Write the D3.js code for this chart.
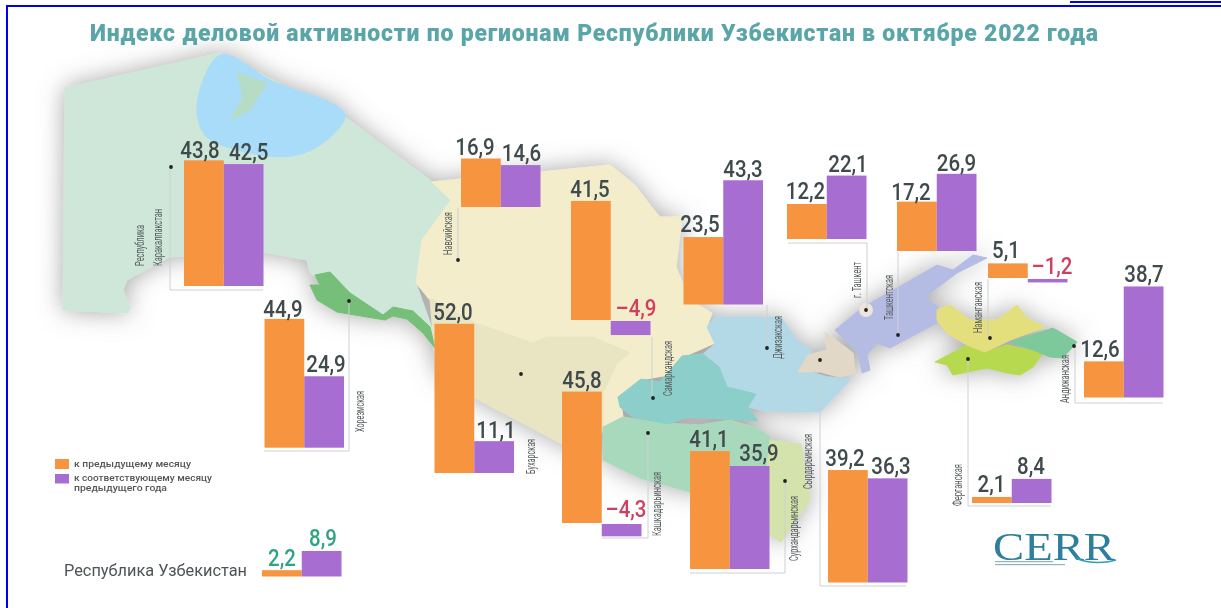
<!DOCTYPE html>
<html><head><meta charset="utf-8">
<script src="https://cdn.jsdelivr.net/npm/d3@7"></script>
<style>html,body{margin:0;padding:0;background:#fff;overflow:hidden}svg{display:block}</style>
</head><body><svg id="c" width="1221" height="608"></svg>
<script>
// ---------- data ----------
const regions = ["Республика Каракалпакстан","Хорезмская","Навоийская","Бухарская","Самаркандская","Кашкадарьинская","Джизакская","Сурхандарьинская","Сырдарьинская","г. Ташкент","Ташкентская","Наманганская","Ферганская","Андижанская","Республика Узбекистан"];
const toPrevMonth = [43.8,44.9,16.9,52.0,41.5,45.8,23.5,41.1,39.2,12.2,17.2,5.1,2.1,12.6,2.2];
const toPrevYear  = [42.5,24.9,14.6,11.1,-4.9,-4.3,43.3,35.9,36.3,22.1,26.9,-1.2,8.4,38.7,8.9];
const seriesNames = ["к предыдущему месяцу","к соответствующему месяцу предыдущего года"];
const titleText = "Индекс деловой активности по регионам Республики Узбекистан в октябре 2022 года";
const fmt = v => (v<0?"–":"")+Math.abs(v).toFixed(1).replace(".",",");

// ---------- layout (not data) ----------
const panelX    = [184,264.5,461,434.5,571,562,683.5,690,828,787,897,988,972,1084,262];
const panelBase = [286,447.7,207,473,320,523,304.5,569,582.5,239,251,278,503,397.5,576.5];
const panelW = 79.5;
const labelX = [[200,248.7],[283,326],[475,521.5],[453,496],[590,636],[582,626],[700,743],[709,759],[845,891],[805.5,848],[911,956.5],[1006,1052],[991.5,1031],[1100,1144],[282,323]];
const labelY = [[158,160],[317,372],[155,161],[320,438],[197,316],[388,517],[232,177],[447,461],[466,474],[199,172],[200,171],[258,274],[492,474],[357,282],[566,546]];
const regionLabels = [
 {t:"Каракалпакстан",x:157.5,y0:209,y1:266},{t:"Республика",x:140,y0:225,y1:266},
 {t:"Хорезмская",x:360,y0:391,y1:432},{t:"Навоийская",x:448,y0:212,y1:255},
 {t:"Бухарская",x:531,y0:439,y1:474},{t:"Самаркандская",x:668,y0:341,y1:396},
 {t:"Кашкадарьинская",x:657,y0:472,y1:536},{t:"Джизакская",x:778,y0:316,y1:359},
 {t:"Сурхандарьинская",x:794,y0:496,y1:561},{t:"Сырдарьинская",x:808,y0:434,y1:489},
 {t:"г. Ташкент",x:857,y0:262,y1:298},{t:"Ташкентская",x:889,y0:275,y1:320},
 {t:"Наманганская",x:978,y0:282,y1:333},{t:"Ферганская",x:958,y0:464,y1:506},
 {t:"Андижанская",x:1065,y0:355,y1:403}];
const dots = [[171,167],[349,301],[458,260],[521,374],[653,398],[648,433],[767,348],[785,481],[820,360],[866,310],[898,335],[990,338],[968,359],[1074,346]];
const leaders = [
 [[170,167],[170,290],[263,290]],[[349,301],[349,451],[264,451]],[[458,260],[458,208]],
 [[652,398],[652,337]],[[648,433],[648,538],[602,538]],[[767,348],[767,305]],
 [[785,481],[785,573],[690,573]],[[820,378],[820,586],[906,586]],
 [[867,310],[867,243],[788,243]],[[898,335],[898,252]],[[988,338],[988,279]],
 [[968,359],[968,506],[1051,506]],[[1075,346],[1075,403],[1163,403]]];
const mapShapes = [
 {f:"#cfe7d8",p:[[65,88],[220,53],[345,117],[430,180],[451,200],[422,240],[416,283],[436,340],[413,315],[393,312],[383,318],[350,296],[318,278],[310,273],[307,260],[263,252],[170,257],[127,280],[123,290],[130,307],[128,313],[63,310]]},
 {f:"#f4edcb",p:[[432,182],[470,178],[540,172],[610,165],[635,185],[650,205],[660,217],[682,217],[676,267],[690,300],[712,313],[707,327],[715,343],[683,357],[680,373],[640,380],[620,397],[623,417],[603,427],[603,393],[617,363],[630,353],[593,337],[547,337],[533,343],[475,323],[430,300],[416,283],[422,240],[451,200]]},
 {f:"#e9e4c2",p:[[430,298],[475,323],[533,343],[547,337],[593,337],[630,353],[617,363],[603,393],[603,430],[590,455],[560,443],[517,420],[475,398],[436,370]]},
 {f:"#a9d9bd",p:[[603,427],[623,417],[660,423],[700,425],[730,420],[757,428],[770,437],[772,480],[690,492],[640,478],[603,460]]},
 {f:"#d3e3ab",p:[[770,440],[801,444],[810,500],[781,542],[760,530]]},
 {f:"#b3d8e6",p:[[715,317],[707,327],[715,344],[703,354],[719,367],[727,387],[756,394],[748,407],[766,411],[820,412],[851,379],[828,377],[800,369],[812,351],[797,341],[781,317]]},
 {f:"#8ccfca",p:[[618,397],[641,379],[660,382],[682,356],[703,354],[719,367],[727,387],[756,394],[748,407],[758,421],[727,419],[688,417],[668,424],[633,417],[620,407]]},
 {f:"#e2d8c8",p:[[825,332],[853,353],[855,373],[840,377],[820,372],[798,372],[808,355],[827,350]]},
 {f:"#b5bce4",p:[[835,330],[863,307],[897,288],[937,265],[953,270],[973,255],[987,258],[957,273],[925,297],[938,307],[937,323],[890,348],[877,343],[867,355],[870,370],[862,373],[858,353]]},
 {f:"#b7d94f",p:[[935,362],[967,345],[985,352],[1007,345],[1043,353],[1033,367],[1020,375],[1007,373],[987,368],[953,375],[947,365]]},
 {f:"#e4df7d",p:[[937,310],[950,305],[970,320],[997,320],[1017,305],[1027,318],[1045,327],[1010,340],[1000,345],[985,352],[967,345],[947,333],[937,320]]},
 {f:"#7ec99b",p:[[1010,342],[1053,328],[1077,342],[1063,358],[1050,357],[1033,350]]},
 {f:"#76bf78",p:[[315,275],[330,272],[350,293],[383,315],[393,307],[413,311],[430,327],[435,348],[423,333],[407,319],[393,316],[385,320],[337,312],[317,300],[310,285],[320,285]]},
 {f:"#a8dcf8",sm:1,p:[[220,55],[200,90],[197,112],[205,135],[237,150],[297,155],[323,143],[345,117],[270,80]]},
 {f:"#b7dcc6",p:[[237,73],[267,83],[250,110],[230,120],[243,97]]}
];
const colors = {orange:"#f7943f",purple:"#a86dd0",text:"#3f4a4c",neg:"#cf4060",total:"#2fa57f",title:"#5aa5a8",label:"#5a6062",blue:"#0000f0",leader:"#ccd0d2"};

// ---------- drawing ----------
const svg = d3.select("#c");
const defs = svg.append("defs");
const blur = defs.append("filter").attr("id","soft").attr("filterUnits","userSpaceOnUse").attr("x",0).attr("y",0).attr("width",1221).attr("height",608);
blur.append("feGaussianBlur").attr("stdDeviation",0.7);
const sh = defs.append("filter").attr("id","shade").attr("filterUnits","userSpaceOnUse").attr("x",0).attr("y",0).attr("width",1221).attr("height",608);
sh.append("feDropShadow").attr("dx",0).attr("dy",0).attr("stdDeviation",12).attr("flood-color","#777").attr("flood-opacity",0.65);

svg.append("rect").attr("x",6).attr("y",5).attr("width",1216).attr("height",2).attr("fill",colors.blue);
svg.append("rect").attr("x",6).attr("y",5).attr("width",2).attr("height",603).attr("fill",colors.blue);
svg.append("rect").attr("x",1070).attr("y",1).attr("width",151).attr("height",2).attr("fill",colors.blue);

const root = svg.append("g").attr("filter","url(#soft)");
const map = root.append("g").attr("filter","url(#shade)");
const smooth = d3.line().curve(d3.curveCatmullRomClosed.alpha(0.8));
const linear = d3.line().curve(d3.curveLinearClosed);
map.selectAll("path").data(mapShapes).join("path").attr("d",d=>(d.sm?smooth:linear)(d.p)).attr("fill",d=>d.f)
  .attr("stroke",d=>d.f).attr("stroke-width",1).attr("stroke-linejoin","round");

root.append("circle").attr("cx",866).attr("cy",310).attr("r",7).attr("fill","#efe4dc");

root.selectAll("path.lead").data(leaders).join("path").attr("class","lead")
  .attr("d",d3.line()).attr("fill","none").attr("stroke",colors.leader).attr("stroke-width",1);
root.selectAll("circle.dot").data(dots).join("circle").attr("class","dot")
  .attr("cx",d=>d[0]).attr("cy",d=>d[1]).attr("r",1.9).attr("fill","#222");

root.append("text").text(titleText).attr("x",90).attr("y",41).attr("textLength",1008).attr("lengthAdjust","spacing")
  .attr("font-family","Roboto").attr("font-weight",900).attr("font-size",23).attr("fill",colors.title);

const yLen = d3.scaleLinear().domain([0,52]).range([0,149.2]);
const barData = regions.map((r,i)=>({r,i,vals:[toPrevMonth[i],toPrevYear[i]]}));
const groups = root.selectAll("g.panel").data(barData).join("g").attr("class","panel");
groups.each(function(g){
  const x = d3.scaleBand().domain(seriesNames).range([panelX[g.i],panelX[g.i]+panelW]);
  const sel = d3.select(this);
  const items = g.vals.map((v,k)=>({v,k}));
  sel.selectAll("rect").data(items).join("rect")
    .attr("x",d=>x(seriesNames[d.k])).attr("width",x.bandwidth())
    .attr("y",d=>d.v>=0?panelBase[g.i]-yLen(d.v):panelBase[g.i]+1)
    .attr("height",d=>yLen(Math.abs(d.v)))
    .attr("fill",d=>d.k===0?colors.orange:colors.purple);
  sel.selectAll("text").data(items).join("text")
    .text(d=>fmt(d.v))
    .attr("x",d=>labelX[g.i][d.k]).attr("y",d=>labelY[g.i][d.k])
    .attr("text-anchor","middle").attr("font-family","Roboto").attr("font-weight",500).attr("font-size",23.5)
    .attr("fill",d=>g.i===14?colors.total:(d.v<0?colors.neg:colors.text))
    .attr("lengthAdjust","spacingAndGlyphs")
    .attr("textLength",function(){return this.getComputedTextLength()*0.87;});
});

root.selectAll("text.reg").data(regionLabels).join("text").attr("class","reg")
  .text(d=>d.t)
  .attr("transform",d=>`translate(${d.x},${d.y1}) rotate(-90)`)
  .attr("textLength",d=>d.y1-d.y0).attr("lengthAdjust","spacingAndGlyphs")
  .attr("dy","0.35em").attr("font-family","Roboto").attr("font-size",12).attr("fill",colors.label);

const legendRows = [
 {c:colors.orange,y:459,h:10,lines:[{t:"к предыдущему месяцу",y:467,w:117}]},
 {c:colors.purple,y:474,h:9.5,lines:[{t:"к соответствующему месяцу",y:481,w:138},{t:"предыдущего года",y:491,w:93}]}];
legendRows.forEach(r=>{
  root.append("rect").attr("x",55).attr("y",r.y).attr("width",14).attr("height",r.h).attr("fill",r.c);
  r.lines.forEach(l=>root.append("text").text(l.t).attr("x",74).attr("y",l.y).attr("textLength",l.w).attr("lengthAdjust","spacingAndGlyphs")
    .attr("font-family","Roboto").attr("font-weight",500).attr("font-size",9).attr("fill","#555"));
});
root.append("text").text("Республика Узбекистан").attr("x",64).attr("y",576).attr("textLength",183).attr("lengthAdjust","spacingAndGlyphs")
  .attr("font-family","Roboto").attr("font-size",17).attr("fill","#4c5456");

root.append("text").text("CERR").attr("x",993).attr("y",560).attr("textLength",122).attr("lengthAdjust","spacingAndGlyphs")
  .attr("font-family","Liberation Serif").attr("font-size",40).attr("fill","#2f7f9c");
root.append("path").attr("d","M1075 558 Q1095 566 1116 560").attr("fill","none").attr("stroke","#2f9fb0").attr("stroke-width",1.5);
root.append("rect").attr("x",995).attr("y",561).attr("width",58).attr("height",1.2).attr("fill","#8fb4c4");
root.append("rect").attr("x",995).attr("y",564).attr("width",70).attr("height",1.2).attr("fill","#8fb4c4");
</script></body></html>
